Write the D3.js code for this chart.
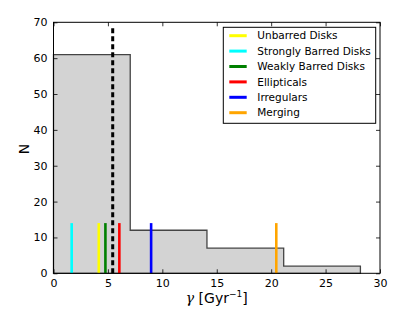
<!DOCTYPE html>
<html><head><meta charset="utf-8">
<script src="https://cdn.jsdelivr.net/npm/d3@7"></script>
<style>body{margin:0;background:#fff}svg{display:block}text{font-family:"DejaVu Sans",sans-serif}</style>
</head><body><svg id="c" width="409" height="315"></svg>
<script>
const binEdges = [0, 7.05, 14.1, 21.15, 28.2];
const binCounts = [61, 12, 7, 2];
const categories = ["Unbarred Disks","Strongly Barred Disks","Weakly Barred Disks","Ellipticals","Irregulars","Merging"];
const catValues = [4.16, 1.67, 4.77, 6.05, 8.97, 20.47];
const catColors = ["#ffff00","#00ffff","#008000","#ff0000","#0000ff","#ffa500"];
const meanValue = 5.44;
const xTicks = [0,5,10,15,20,25,30];
const yTicks = [0,10,20,30,40,50,60,70];

const svg = d3.select("#c");
const L=53.5, R=380, T=22.3, B=273.3;
const x = d3.scaleLinear().domain([0,30]).range([L,R]);
const y = d3.scaleLinear().domain([0,70]).range([B,T]);

// histogram step outline
const pts = [[binEdges[0],0]];
binCounts.forEach((c,i)=>{pts.push([binEdges[i],c]);pts.push([binEdges[i+1],c]);});
pts.push([binEdges[binEdges.length-1],0]);
svg.append("path").attr("d", d3.line().x(d=>x(d[0])).y(d=>y(d[1]))(pts)+"Z")
  .attr("fill","#d3d3d3").attr("stroke","#444").attr("stroke-width",1.3);

// category lines (20% of axis height)
catValues.forEach((v,i)=>{
  svg.append("line").attr("x1",x(v)).attr("x2",x(v)).attr("y1",y(0)).attr("y2",y(70*0.2))
    .attr("stroke",catColors[i]).attr("stroke-width",2.6);
});
// mean dashed line
svg.append("line").attr("x1",x(meanValue)).attr("x2",x(meanValue)).attr("y1",y(0)).attr("y2",y(68.6))
  .attr("stroke","#000").attr("stroke-width",3).attr("stroke-dasharray","5,3");

// frame
svg.append("rect").attr("x",L).attr("y",T).attr("width",R-L).attr("height",B-T)
  .attr("fill","none").attr("stroke","#000").attr("stroke-width",1);

// axes with inward ticks
const xb = svg.append("g").attr("transform",`translate(0,${B})`)
  .call(d3.axisBottom(x).tickValues(xTicks).tickSize(-4).tickPadding(6).tickFormat(d3.format("d")));
const xt = svg.append("g").attr("transform",`translate(0,${T})`)
  .call(d3.axisTop(x).tickValues(xTicks).tickSize(-4).tickFormat(""));
const yl = svg.append("g").attr("transform",`translate(${L},0)`)
  .call(d3.axisLeft(y).tickValues(yTicks).tickSize(-4).tickPadding(6).tickFormat(d3.format("d")));
const yr = svg.append("g").attr("transform",`translate(${R},0)`)
  .call(d3.axisRight(y).tickValues(yTicks).tickSize(-4).tickFormat(""));
[xb,xt,yl,yr].forEach(g=>{
  g.select(".domain").remove();
  g.selectAll("line").attr("stroke","#000").attr("stroke-width",0.8);
  g.selectAll("text").attr("font-size",11).attr("fill","#000").attr("font-family","DejaVu Sans");
});

// axis labels
svg.append("text").attr("x",24).attr("y",149).attr("text-anchor","middle")
  .attr("transform",`rotate(-90,24,149)`).attr("dy","0.35em")
  .attr("font-size",14).text("N");
const xl = svg.append("text").attr("x",(L+R)/2).attr("y",303).attr("text-anchor","middle").attr("font-size",14);
xl.append("tspan").attr("font-family","DejaVu Serif").attr("font-style","italic").text("γ");
xl.append("tspan").text(" [Gyr");
xl.append("tspan").attr("font-size",9).attr("dy",-6).text("−1");
xl.append("tspan").attr("dy",6).text("]");

// legend
const lg = svg.append("g");
lg.append("rect").attr("x",223.3).attr("y",27.3).attr("width",152.4).attr("height",96)
  .attr("fill","#fff").attr("stroke","#000").attr("stroke-width",1);
categories.forEach((c,i)=>{
  const yy = 35.7 + i*15.4;
  lg.append("line").attr("x1",229.3).attr("x2",246.7).attr("y1",yy).attr("y2",yy)
    .attr("stroke",catColors[i]).attr("stroke-width",3);
  lg.append("text").attr("x",257.3).attr("y",yy).attr("dy","0.35em").attr("font-size",10.5).text(c);
});
</script></body></html>
